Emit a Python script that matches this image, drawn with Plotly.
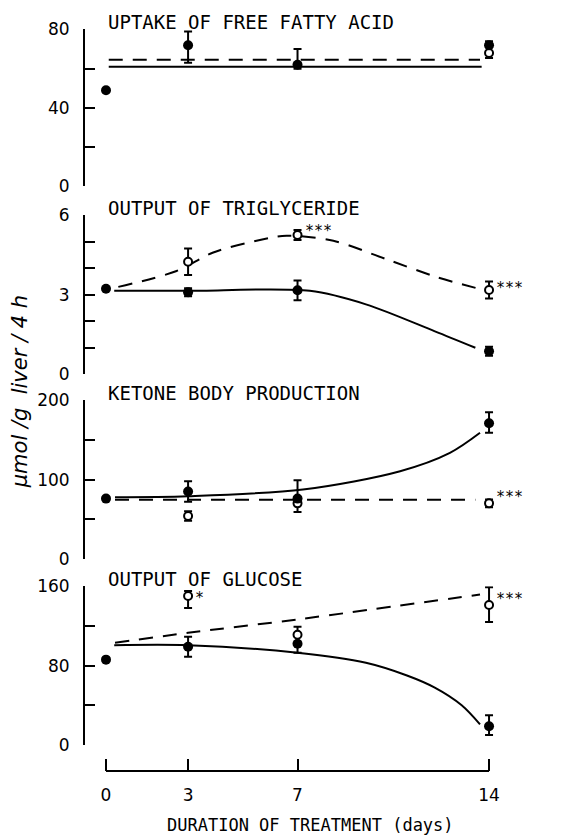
import plotly.graph_objects as go

W, H = 581, 838

# ---------------- data ----------------
x_ticks = [0, 3, 7, 14]
x_ticklabels = ["0", "3", "7", "14"]

# Panel 1: uptake of free fatty acid
ffa_filled_x = [0, 3, 7, 14]
ffa_filled_y = [49, 72, 62, 72]
ffa_filled_eplus = [0, 7, 8, 2]
ffa_filled_eminus = [0, 9, 2, 1]
ffa_open_x = [14]
ffa_open_y = [68]
ffa_open_eplus = [0]
ffa_open_eminus = [2.5]
ffa_fit_solid_x = [0.1, 13.73]
ffa_fit_solid_y = [61, 61]
ffa_fit_dash_x = [0.1, 13.67]
ffa_fit_dash_y = [64.6, 64.6]

# Panel 2: output of triglyceride
tg_filled_x = [0, 3, 7, 14]
tg_filled_y = [3.23, 3.1, 3.17, 0.87]
tg_filled_err = [0, 0.15, 0.37, 0.17]
tg_open_x = [3, 7, 14]
tg_open_y = [4.25, 5.26, 3.18]
tg_open_err = [0.5, 0.19, 0.32]
tg_fit_solid_x = [0.3, 3, 7.45, 9.5, 12, 13.5]
tg_fit_solid_y = [3.15, 3.15, 3.15, 2.64, 1.63, 1.0]
tg_fit_dash_x = [0.45, 2.58, 3.92, 5.75, 6.6, 8.31, 10.26, 12.09, 13.55]
tg_fit_dash_y = [3.3, 3.9, 4.6, 5.1, 5.23, 5.04, 4.34, 3.67, 3.25]

# Panel 3: ketone body production
kb_filled_x = [0, 3, 7, 14]
kb_filled_y = [76, 85, 76, 171]
kb_filled_eplus = [0, 13, 23, 14]
kb_filled_eminus = [0, 13, 0, 12]
kb_open_x = [3, 7, 14]
kb_open_y = [54, 70, 70]
kb_open_eplus = [6, 0, 5]
kb_open_eminus = [6, 11, 5]
kb_fit_solid_x = [0.33, 3, 7.2, 10.75, 12.57, 13.67]
kb_fit_solid_y = [77.8, 79, 87.5, 110.6, 133.7, 159]
kb_fit_dash_x = [0.33, 13.5]
kb_fit_dash_y = [74.4, 74.4]

# Panel 4: output of glucose
gl_filled_x = [0, 3, 7, 14]
gl_filled_y = [86, 99, 102, 19]
gl_filled_eplus = [0, 10, 0, 11]
gl_filled_eminus = [0, 10, 9, 9]
gl_open_x = [3, 7, 14]
gl_open_y = [150, 111, 141]
gl_open_eplus = [5, 8, 18]
gl_open_eminus = [12, 0, 17]
gl_fit_solid_x = [0.3, 3, 7, 9.5, 11, 12, 13, 13.67]
gl_fit_solid_y = [100.6, 100.6, 92.9, 82.8, 70, 58, 40, 20.8]
gl_fit_dash_x = [0.33, 3, 7, 13.67]
gl_fit_dash_y = [103, 113, 126.5, 151.6]

panel_titles = ["UPTAKE OF FREE FATTY ACID", "OUTPUT OF TRIGLYCERIDE",
                "KETONE BODY PRODUCTION", "OUTPUT OF GLUCOSE"]
y_ranges = [80, 6, 200, 160]
y_tickstep = [20, 1, 50, 40]
y_labelstep = [40, 3, 100, 80]

# significance marks: (panel, x, y, text)
stars = [(2, 7, 5.26, "***"), (2, 14, 3.18, "***"),
         (3, 14, 70, "***"),
         (4, 3, 150, "*"), (4, 14, 141, "***")]

x_title = "DURATION OF TREATMENT (days)"
y_title = "<i>μmol /g  liver / 4 h</i>"

# ---------------- geometry (target pixels in the photographed page) ----------------
panel_px = [(28, 185), (214, 373), (399, 557.7), (585, 744)]  # top, bottom
axis_x_px = 85
x0_px = 106
px_per_day = 27.36
right_px = 565
bottom_axis_px = 770

# page offset / scale compensation (measured from render)
OX, OY, SY = 8.0, 16.5, 818.5


def px_x(p):
    return (p - OX) / W


def px_y(p):
    return 1 - (p - OY) / SY


fig = go.Figure()

FONT_T = "DejaVu Sans Mono"
FONT_N = "DejaVu Sans"
BLACK = "black"


def add_panel(i, fx, fy, fep, fem, ox, oy, oep, oem, sx, sy, dx, dy):
    yref = "y" if i == 1 else f"y{i}"
    fig.add_trace(go.Scatter(x=sx, y=sy, mode="lines", yaxis=yref,
                             line=dict(color=BLACK, width=2, shape="spline", smoothing=0.9),
                             hoverinfo="skip", showlegend=False))
    fig.add_trace(go.Scatter(x=dx, y=dy, mode="lines", yaxis=yref,
                             line=dict(color=BLACK, width=2, dash="14px,10px", shape="spline", smoothing=0.9),
                             hoverinfo="skip", showlegend=False))
    fig.add_trace(go.Scatter(x=ox, y=oy, mode="markers", yaxis=yref, cliponaxis=False,
                             marker=dict(symbol="circle", size=8, color="white",
                                         line=dict(color=BLACK, width=2)),
                             error_y=dict(type="data", array=oep, arrayminus=oem, symmetric=False,
                                          color=BLACK, thickness=2, width=4),
                             showlegend=False))
    fig.add_trace(go.Scatter(x=fx, y=fy, mode="markers", yaxis=yref, cliponaxis=False,
                             marker=dict(symbol="circle", size=10, color=BLACK),
                             error_y=dict(type="data", array=fep, arrayminus=fem, symmetric=False,
                                          color=BLACK, thickness=2, width=4),
                             showlegend=False))


add_panel(1, ffa_filled_x, ffa_filled_y, ffa_filled_eplus, ffa_filled_eminus,
          ffa_open_x, ffa_open_y, ffa_open_eplus, ffa_open_eminus,
          ffa_fit_solid_x, ffa_fit_solid_y, ffa_fit_dash_x, ffa_fit_dash_y)
add_panel(2, tg_filled_x, tg_filled_y, tg_filled_err, tg_filled_err,
          tg_open_x, tg_open_y, tg_open_err, tg_open_err,
          tg_fit_solid_x, tg_fit_solid_y, tg_fit_dash_x, tg_fit_dash_y)
add_panel(3, kb_filled_x, kb_filled_y, kb_filled_eplus, kb_filled_eminus,
          kb_open_x, kb_open_y, kb_open_eplus, kb_open_eminus,
          kb_fit_solid_x, kb_fit_solid_y, kb_fit_dash_x, kb_fit_dash_y)
add_panel(4, gl_filled_x, gl_filled_y, gl_filled_eplus, gl_filled_eminus,
          gl_open_x, gl_open_y, gl_open_eplus, gl_open_eminus,
          gl_fit_solid_x, gl_fit_solid_y, gl_fit_dash_x, gl_fit_dash_y)

x_lo = (axis_x_px - x0_px) / px_per_day
x_hi = (right_px - x0_px) / px_per_day

layout = dict(
    width=W, height=H,
    margin=dict(l=0, r=0, t=0, b=0),
    paper_bgcolor="white", plot_bgcolor="white",
    showlegend=False,
    xaxis=dict(domain=[px_x(axis_x_px), px_x(right_px)], range=[x_lo, x_hi],
               anchor="free", position=px_y(bottom_axis_px),
               showline=False, showgrid=False, zeroline=False,
               tickmode="array", tickvals=x_ticks, ticktext=x_ticklabels,
               ticks="inside", ticklen=12, tickwidth=2, tickcolor=BLACK,
               ticklabelstandoff=12,
               tickfont=dict(family=FONT_N, size=17, color=BLACK)),
)

for i in range(4):
    top, bot = panel_px[i]
    key = "yaxis" if i == 0 else f"yaxis{i + 1}"
    ymax = y_ranges[i]
    step = y_tickstep[i]
    lstep = y_labelstep[i]
    n = int(round(ymax / step))
    tv = [k * step for k in range(n + 1)]
    tt = [str(int(v)) if abs(v / lstep - round(v / lstep)) < 1e-9 else "" for v in tv]
    layout[key] = dict(domain=[px_y(bot), px_y(top)], range=[0, ymax],
                       anchor="x", showline=True, linecolor=BLACK, linewidth=2,
                       showgrid=False, zeroline=False,
                       tickmode="array", tickvals=tv, ticktext=tt,
                       ticks="inside", ticklen=10, tickwidth=2, tickcolor=BLACK,
                       ticklabelstandoff=10,
                       tickfont=dict(family=FONT_N, size=17, color=BLACK))

fig.update_layout(**layout)

fig.add_shape(type="line", xref="x", yref="paper", x0=x_ticks[0], x1=x_ticks[-1],
              y0=px_y(bottom_axis_px), y1=px_y(bottom_axis_px),
              line=dict(color=BLACK, width=2))

annotations = []
for i, t in enumerate(panel_titles):
    top, bot = panel_px[i]
    annotations.append(dict(text=t, xref="paper", yref="paper", x=px_x(106), y=px_y(top - 7),
                            xanchor="left", yanchor="middle", showarrow=False,
                            font=dict(family=FONT_T, size=19, color=BLACK)))

star_shift = {(2, 7): 4, (2, 14): 2, (3, 14): 6, (4, 3): -2, (4, 14): 6}
for (p, sx, sy, txt) in stars:
    yref = "y" if p == 1 else f"y{p}"
    annotations.append(dict(text=txt, xref="x", yref=yref, x=sx, y=sy, xshift=5,
                            yshift=star_shift[(p, sx)],
                            xanchor="left", yanchor="middle", showarrow=False,
                            font=dict(family=FONT_T, size=15, color=BLACK)))

annotations.append(dict(text=x_title, xref="x", yref="paper", x=7.46, y=px_y(824),
                        xanchor="center", yanchor="middle", showarrow=False,
                        font=dict(family=FONT_T, size=17, color=BLACK)))
annotations.append(dict(text=y_title, xref="paper", yref="paper", x=px_x(20), y=px_y(391),
                        xanchor="center", yanchor="middle", showarrow=False, textangle=-90,
                        font=dict(family=FONT_N, size=21, color=BLACK)))

fig.update_layout(annotations=annotations)

fig.write_html("out.html")
